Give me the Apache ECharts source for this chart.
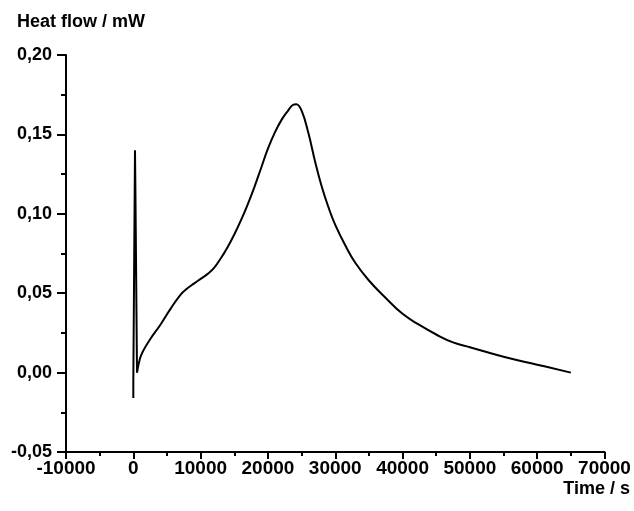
<!DOCTYPE html>
<html>
<head>
<meta charset="utf-8">
<script src="https://cdn.jsdelivr.net/npm/echarts@6/dist/echarts.min.js"></script>
<style>
  html, body { margin: 0; padding: 0; background: #fff; }
  #chart { width: 634px; height: 511px; }
</style>
</head>
<body>
<div id="chart"></div>
<script>
var myChart = echarts.init(document.getElementById('chart'));

// time in s, heat flow in mW
// the injection spike right at the start
var spikeTimes = [0, 0, 150, 250, 300, 550];
var spikeFlow = [-0.016, -0.006, -0.005, 0.140, 0.120, 0.000];
// the main heat flow curve after it
var times = [550, 1000, 1500, 2500, 4000, 5500, 7000, 8000, 9000, 10000,
  11000, 12000, 13000, 14000, 15000, 16000, 17000, 18000, 19000, 20000, 21000, 22000,
  23000, 23700, 24200, 25000, 26000, 27000, 28000, 29000, 30000, 31500, 33000, 35000,
  37500, 40000, 42500, 45000, 47500, 50000, 55000, 60000, 65000];
var heatFlow = [0.000, 0.009, 0.014, 0.021, 0.030, 0.040,
  0.049, 0.053, 0.056, 0.059, 0.062, 0.066, 0.072, 0.079, 0.087, 0.096, 0.106, 0.117,
  0.129, 0.141, 0.151, 0.159, 0.165, 0.1685, 0.169, 0.165, 0.151, 0.133, 0.117, 0.104,
  0.093, 0.080, 0.069, 0.058, 0.047, 0.037, 0.030, 0.024, 0.019, 0.016, 0.010, 0.005, 0.000];

var spikeData = spikeTimes.map(function (t, i) { return [t, spikeFlow[i]]; });
var data = times.map(function (t, i) { return [t, heatFlow[i]]; });

var font = 'Liberation Sans';
var black = '#000';

var option = {
  animation: false,
  backgroundColor: '#fff',
  graphic: [
    {
      type: 'text', x: 17, y: 22,
      style: { text: 'Heat flow / mW', fill: black, font: 'bold 18px "Liberation Sans"',
        textAlign: 'left', textVerticalAlign: 'middle' }
    },
    {
      type: 'text', x: 630, y: 489,
      style: { text: 'Time / s', fill: black, font: 'bold 18px "Liberation Sans"',
        textAlign: 'right', textVerticalAlign: 'middle' }
    }
  ],
  grid: { left: 66, top: 55, right: 29.5, bottom: 59 },
  xAxis: {
    type: 'value',
    min: -10000, max: 70000, interval: 10000,
    axisLine: { onZero: false, lineStyle: { color: black, width: 2 } },
    axisTick: { inside: false, length: 7, lineStyle: { color: black, width: 2 } },
    minorTick: { show: true, splitNumber: 2, length: 4, lineStyle: { color: black, width: 2 } },
    splitLine: { show: false },
    axisLabel: {
      margin: 7, color: black, fontFamily: font, fontWeight: 'bold', fontSize: 19,
      formatter: function (v) { return String(v); }
    }
  },
  yAxis: {
    type: 'value',
    min: -0.05, max: 0.2, interval: 0.05,
    axisLine: { show: true, onZero: false, lineStyle: { color: black, width: 2 } },
    axisTick: { show: true, inside: false, length: 9, lineStyle: { color: black, width: 2 } },
    minorTick: { show: true, splitNumber: 2, length: 5, lineStyle: { color: black, width: 2 } },
    splitLine: { show: false },
    axisLabel: {
      margin: 14, color: black, fontFamily: font, fontWeight: 'bold', fontSize: 18,
      formatter: function (v) { return v.toFixed(2).replace('.', ','); }
    }
  },
  series: [
    {
      type: 'line',
      data: spikeData,
      symbol: 'none',
      lineStyle: { color: black, width: 2 }
    },
    {
      type: 'line',
      data: data,
      symbol: 'none',
      smooth: 0.45,
      lineStyle: { color: black, width: 2 }
    }
  ]
};

myChart.setOption(option);
</script>
</body>
</html>
